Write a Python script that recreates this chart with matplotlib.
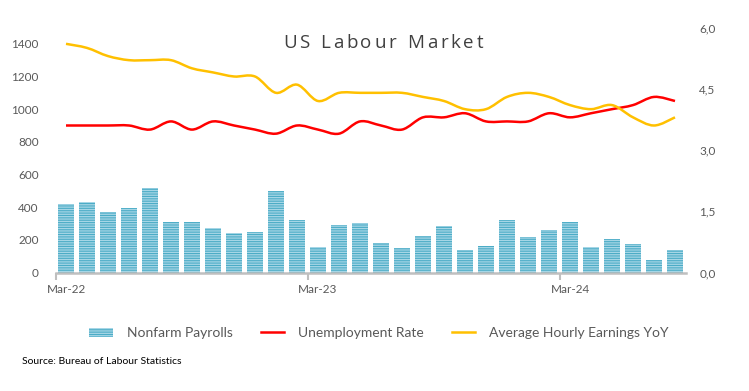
import numpy as np
import matplotlib
matplotlib.use("Agg")
import matplotlib.pyplot as plt
from matplotlib.path import Path
from matplotlib.patches import PathPatch
from matplotlib.lines import Line2D
from matplotlib.patches import Patch

# данные (Mar-22 .. Aug-24)
months = ["Mar-22", "Apr-22", "May-22", "Jun-22", "Jul-22", "Aug-22", "Sep-22", "Oct-22",
          "Nov-22", "Dec-22", "Jan-23", "Feb-23", "Mar-23", "Apr-23", "May-23", "Jun-23",
          "Jul-23", "Aug-23", "Sep-23", "Oct-23", "Nov-23", "Dec-23", "Jan-24", "Feb-24",
          "Mar-24", "Apr-24", "May-24", "Jun-24", "Jul-24", "Aug-24"]
nfp = [417, 430, 373, 393, 516, 307, 307, 274, 244, 250, 497, 319, 158, 289, 301, 178,
       147, 221, 287, 139, 164, 323, 219, 262, 307, 158, 207, 172, 78, 135]
unemployment = [3.6, 3.6, 3.6, 3.6, 3.5, 3.7, 3.5, 3.7, 3.6, 3.5, 3.4, 3.6, 3.5, 3.4, 3.7,
                3.6, 3.5, 3.8, 3.8, 3.9, 3.7, 3.7, 3.7, 3.9, 3.8, 3.9, 4.0, 4.1, 4.3, 4.2]
earnings = [5.6, 5.5, 5.3, 5.2, 5.2, 5.2, 5.0, 4.9, 4.8, 4.8, 4.4, 4.6, 4.2, 4.4, 4.4,
            4.4, 4.4, 4.3, 4.2, 4.0, 4.0, 4.3, 4.4, 4.3, 4.1, 4.0, 4.1, 3.8, 3.6, 3.8]
xlabels = {0: "Mar-22", 12: "Mar-23", 24: "Mar-24"}

GREY = "#595959"
FONT = ["Lato", "DejaVu Sans"]
plt.rcParams["font.family"] = FONT
plt.rcParams["hatch.linewidth"] = 0.8


def smooth_path(x, y):
    # сглаживание как в Excel (Безье через точки)
    x = np.asarray(x, float)
    y = np.asarray(y, float)
    n = len(x)
    verts = [(x[0], y[0])]
    codes = [Path.MOVETO]
    for i in range(n - 1):
        p0 = np.array([x[max(i - 1, 0)], y[max(i - 1, 0)]])
        p1 = np.array([x[i], y[i]])
        p2 = np.array([x[i + 1], y[i + 1]])
        p3 = np.array([x[min(i + 2, n - 1)], y[min(i + 2, n - 1)]])
        c1 = p1 + (p2 - p0) / 6
        c2 = p2 - (p3 - p1) / 6
        verts += [tuple(c1), tuple(c2), tuple(p2)]
        codes += [Path.CURVE4] * 3
    return Path(verts, codes)


fig = plt.figure(figsize=(7.49, 3.91), dpi=100)
ax = fig.add_axes([55.5 / 749, 1 - 272.5 / 391, 630 / 749, 245 / 391])
x = np.arange(len(months))

ax.bar(x, nfp, width=0.76, color="#a6d6e6", edgecolor="#4bacc6",
       hatch="-" * 7, linewidth=0)
ax.set_xlim(-0.5, len(months) - 0.5)
ax.set_ylim(0, 1500)
ax.set_yticks(range(0, 1401, 200))
ax.set_xticks([-0.5, 11.5, 23.5])
ax.set_xticklabels([])
ax.set_xticks(list(xlabels.keys()), minor=True)
ax.set_xticklabels(list(xlabels.values()), minor=True)
ax.tick_params(axis="x", which="major", length=5, width=1.5, color="#bfbfbf", direction="out")
ax.tick_params(axis="x", which="minor", length=0, pad=8, labelsize=8.5, labelcolor=GREY)
ax.tick_params(axis="y", length=0, pad=12, labelsize=8.5, labelcolor=GREY)
for s in ["top", "left", "right"]:
    ax.spines[s].set_visible(False)
ax.spines["bottom"].set_color("#bfbfbf")
ax.spines["bottom"].set_linewidth(1.8)

ax2 = ax.twinx()
ax2.set_ylim(0, 6)
ax2.set_yticks([0, 1.5, 3, 4.5, 6])
ax2.set_yticklabels(["0,0", "1,5", "3,0", "4,5", "6,0"])
ax2.tick_params(axis="y", length=0, pad=10, labelsize=8.5, labelcolor=GREY)
for s in ["top", "left", "right", "bottom"]:
    ax2.spines[s].set_visible(False)
ax2.add_patch(PathPatch(smooth_path(x, unemployment), fill=False, edgecolor="#ff0000", lw=1.8))
ax2.add_patch(PathPatch(smooth_path(x, earnings), fill=False, edgecolor="#ffc000", lw=1.8))

# заголовок с разрядкой
title = "US Labour Market"
renderer = fig.canvas.get_renderer()
tprops = dict(fontsize=13.5, color="#404040", family=["Open Sans", "DejaVu Sans"])


def width_of(s):
    t = fig.text(0, 0, s, **tprops)
    w = t.get_window_extent(renderer).width
    t.remove()
    return w


natural = width_of(title)
spacing = (200 - natural) / (len(title) - 1)
x0 = 283
for i, ch in enumerate(title):
    if ch == " ":
        continue
    px = x0 + width_of(title[:i + 1]) - width_of(ch) + i * spacing
    fig.text(px / 749, 1 - 43 / 391, ch, ha="left", va="center", **tprops)

handles = [Patch(facecolor="#a6d6e6", edgecolor="#4bacc6", hatch="-" * 7, linewidth=0),
           Line2D([], [], color="#ff0000", lw=1.8),
           Line2D([], [], color="#ffc000", lw=1.8)]
fig.legend(handles, ["Nonfarm Payrolls", "Unemployment Rate", "Average Hourly Earnings YoY"],
           loc="center", bbox_to_anchor=(379 / 749, 1 - 333 / 391), ncol=3, frameon=False,
           fontsize=10, labelcolor=GREY, handlelength=1.7, handleheight=0.6,
           handletextpad=1.0, columnspacing=2.0)

fig.text(22 / 749, 1 - 362 / 391, "Source: Bureau of Labour Statistics", fontsize=7.5,
         color="#000000", va="center", ha="left")

fig.savefig("out.png", dpi=100)
